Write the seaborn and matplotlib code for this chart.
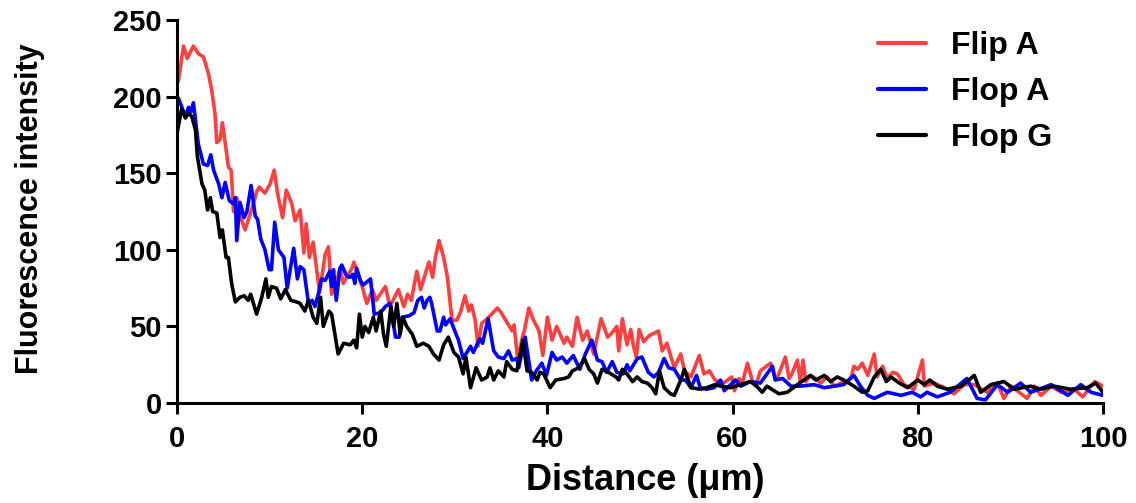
import numpy as np
import pandas as pd
import matplotlib
matplotlib.use("Agg")
import matplotlib.pyplot as plt
import seaborn as sns

# === DATA ===
flip_a_x = [0.0, 0.15, 0.7, 1.1, 1.77, 2.3, 2.85, 3.4, 3.75, 4.1, 4.3, 4.65, 4.9, 5.2, 5.55, 5.85,
            6.1, 6.45, 7.0, 7.35, 8.25, 8.6, 8.9, 9.5, 10.05, 10.5, 10.85, 11.4, 11.8, 12.4, 12.75,
            13.3, 13.7, 13.95, 14.3, 14.7, 15.0, 15.4, 16.0, 16.35, 16.7, 17.2, 17.6, 17.95, 18.9,
            19.1, 20.0, 20.5, 21.1, 21.5, 22.5, 23.0, 23.9, 24.5, 24.9, 25.3, 25.9, 26.3, 26.8,
            27.2, 27.6, 27.9, 28.3, 28.8, 29.2, 29.7, 30.2, 30.6, 31.1, 31.5, 31.8, 32.2, 32.5,
            32.9, 33.5, 34.6, 35.0, 35.6, 36.2, 36.4, 36.8, 37.3, 37.5, 38.0, 38.5, 39.1, 39.5,
            40.0, 40.5, 41.0, 41.8, 42.1, 42.7, 43.2, 43.8, 44.3, 45.0, 45.8, 46.5, 47.0, 47.5,
            47.7, 48.1, 48.6, 49.0, 49.3, 49.6, 49.9, 50.4, 51.0, 52.0, 52.4, 52.9, 53.7, 54.4,
            54.8, 55.5, 56.4, 56.9, 57.5, 58.1, 58.8, 59.9, 60.2, 60.7, 61.0, 61.6, 62.1, 62.5,
            63.0, 64.1, 64.5, 64.8, 65.7, 66.1, 66.4, 67.0, 67.3, 67.6, 67.9, 68.4, 69.0, 69.5,
            70.2, 71.0, 71.7, 72.4, 72.8, 73.1, 73.5, 74.0, 74.6, 75.3, 75.6, 76.2, 76.7, 77.3,
            77.8, 78.5, 79.6, 80.5, 80.7, 81.8, 83.2, 83.9, 85.0, 86.1, 87.5, 88.6, 89.3, 90.1,
            91.8, 92.6, 93.3, 94.4, 95.5, 96.9, 97.8, 99.1, 100.0]
flip_a_y = [213, 210, 233, 225, 233, 228, 226, 215, 204, 189, 170, 172, 183, 170, 154, 152,
            125, 134, 119, 113, 130, 138, 141, 137, 143, 152, 137, 121, 139, 130, 119,
            126, 98, 117, 95, 105, 91, 72, 97, 102, 71, 78, 88, 78, 88,
            92, 76, 65, 74, 67, 76, 63, 74, 63, 71, 67, 86, 74, 84,
            92, 82, 95, 106, 95, 82, 54, 54, 59, 70, 60, 64, 54, 37,
            52, 55, 62, 59, 53, 47, 51, 28, 43, 47, 62, 54, 47, 31,
            56, 41, 50, 39, 43, 37, 56, 41, 47, 32, 55, 43, 46, 50,
            34, 55, 38, 48, 37, 30, 48, 40, 44, 47, 34, 39, 23, 32,
            21, 17, 31, 19, 21, 15, 12, 17, 8, 16, 12, 26, 15, 11,
            21, 26, 18, 16, 30, 16, 19, 28, 14, 28, 14, 18, 16, 13,
            17, 11, 13, 14, 17, 24, 22, 26, 18, 32, 17, 24, 16, 20,
            19, 12, 9, 28, 11, 13, 9, 6, 12, 12, 7, 13, 3, 11,
            3, 11, 5, 11, 7, 9, 4, 14, 11]

flop_a_x = [0.0, 0.15, 0.9, 1.25, 1.5, 1.77, 2.3, 2.85, 3.3, 3.65, 3.95, 4.5, 4.85, 5.2, 5.65,
            6.1, 6.3, 6.45, 6.8, 7.25, 7.55, 8.0, 8.45, 8.7, 9.05, 9.5, 9.95, 10.2, 10.55, 10.95,
            11.55, 11.9, 12.6, 13.0, 13.3, 13.7, 14.2, 14.6, 14.9, 15.3, 15.6, 16.0, 16.5, 16.7,
            16.9, 17.2, 17.6, 17.8, 18.3, 18.7, 19.0, 19.2, 19.4, 19.8, 20.1, 20.9, 21.3, 22.0,
            22.5, 23.0, 23.6, 24.0, 24.3, 25.1, 25.6, 26.0, 26.4, 26.7, 27.0, 27.3, 27.5, 28.1,
            28.4, 28.8, 29.0, 29.5, 30.0, 30.4, 30.9, 31.7, 32.0, 32.7, 33.0, 33.6, 34.2, 34.7,
            35.3, 35.8, 36.2, 36.7, 36.9, 37.6, 38.3, 38.8, 39.4, 39.9, 40.5, 41.0, 41.6, 42.1,
            42.8, 43.5, 44.1, 44.8, 45.4, 45.9, 46.4, 47.0, 47.5, 48.2, 48.6, 48.9, 49.7, 50.2,
            50.9, 51.5, 52.0, 52.6, 53.1, 53.7, 54.4, 54.9, 55.5, 56.1, 56.5, 57.2, 58.0, 58.7,
            59.1, 59.8, 60.3, 60.9, 61.9, 63.0, 64.3, 64.6, 65.4, 66.3, 67.3, 68.8, 69.9, 71.0,
            72.0, 73.1, 73.8, 74.6, 75.3, 76.7, 78.2, 79.4, 80.3, 81.0, 82.1, 83.5, 84.3, 85.3,
            86.4, 87.3, 88.6, 89.7, 91.1, 92.2, 94.4, 96.2, 97.6, 98.7, 100.0]
flop_a_y = [193, 199, 187, 193, 190, 196, 169, 156, 155, 162, 152, 143, 134, 144, 132,
            130, 134, 106, 131, 121, 125, 142, 122, 120, 107, 100, 87, 87, 118, 100,
            95, 75, 101, 81, 89, 87, 65, 67, 63, 72, 81, 80, 86, 76,
            87, 67, 88, 90, 83, 82, 84, 78, 88, 80, 77, 81, 58, 59,
            63, 65, 43, 43, 56, 57, 59, 67, 69, 62, 67, 69, 65, 47,
            47, 56, 51, 55, 47, 41, 29, 37, 33, 42, 39, 55, 34, 30,
            29, 34, 28, 29, 23, 43, 15, 21, 26, 18, 33, 28, 30, 26,
            31, 22, 32, 41, 28, 27, 20, 27, 20, 19, 25, 21, 29, 30,
            20, 17, 20, 29, 23, 22, 15, 15, 10, 18, 10, 9, 10, 15,
            8, 12, 15, 11, 14, 13, 24, 15, 16, 11, 11, 12, 10, 11,
            12, 18, 11, 5, 3, 7, 5, 7, 4, 7, 4, 7, 11, 16,
            3, 2, 12, 7, 13, 7, 12, 5, 12, 7, 5]

flop_g_x = [0.0, 0.5, 0.9, 1.25, 1.6, 2.0, 2.2, 2.7, 3.0, 3.3, 3.6, 3.85, 4.3, 4.65, 4.9, 5.3,
            5.55, 5.9, 6.3, 6.8, 7.25, 7.7, 7.95, 8.25, 8.6, 9.15, 9.6, 9.85, 10.2, 10.75, 11.2,
            11.7, 12.3, 12.9, 13.3, 13.8, 14.2, 14.7, 15.1, 15.5, 15.8, 16.4, 16.7, 17.1, 17.4,
            18.0, 18.7, 19.1, 19.4, 19.7, 20.0, 20.3, 20.7, 21.2, 21.5, 22.0, 22.3, 22.6, 23.1,
            23.4, 23.75, 24.1, 24.4, 24.8, 25.4, 25.9, 26.6, 27.2, 27.7, 28.3, 28.8, 29.3, 29.9,
            30.4, 30.9, 31.2, 31.7, 32.3, 32.9, 33.5, 33.8, 34.2, 34.7, 35.3, 35.6, 36.2, 36.7,
            37.35, 37.8, 38.3, 38.9, 39.2, 39.6, 40.3, 40.9, 41.8, 42.3, 42.7, 43.4, 44.0, 44.5,
            45.0, 45.4, 45.9, 46.6, 47.4, 47.7, 48.1, 48.6, 49.2, 49.7, 50.2, 50.8, 51.3, 51.7,
            52.1, 52.6, 53.3, 53.7, 54.4, 54.8, 55.5, 56.5, 57.2, 58.1, 58.7, 59.8, 60.9, 61.9,
            62.6, 63.2, 63.7, 65.0, 65.9, 67.0, 67.7, 68.4, 69.0, 69.9, 70.6, 71.3, 72.0, 73.1,
            74.0, 74.6, 75.3, 76.0, 76.6, 77.1, 78.0, 78.9, 80.0, 80.7, 81.3, 82.1, 83.2, 84.7,
            86.1, 86.8, 87.9, 89.3, 90.4, 92.2, 93.3, 94.7, 96.5, 98.3, 99.2, 100.0]
flop_g_y = [176, 192, 186, 189, 187, 178, 161, 143, 139, 126, 134, 125, 124, 108, 113, 95,
            95, 78, 66, 69, 70, 67, 71, 65, 58, 69, 81, 69, 76, 75, 68,
            74, 67, 66, 65, 60, 67, 56, 52, 69, 50, 60, 58, 43, 32,
            39, 38, 41, 36, 58, 43, 50, 46, 56, 47, 60, 45, 37, 63,
            50, 65, 45, 56, 50, 45, 37, 39, 37, 32, 28, 38, 43, 33,
            30, 19, 30, 10, 23, 15, 17, 23, 15, 21, 17, 27, 22, 21,
            41, 21, 20, 15, 20, 19, 10, 15, 16, 17, 21, 23, 29, 22,
            19, 13, 22, 20, 17, 15, 22, 19, 14, 17, 14, 13, 10, 6,
            21, 10, 6, 5, 15, 22, 10, 9, 10, 12, 11, 10, 12, 14,
            11, 7, 11, 6, 7, 12, 15, 18, 15, 18, 14, 17, 15, 11,
            7, 8, 17, 22, 14, 17, 13, 10, 15, 12, 15, 11, 9, 11,
            18, 7, 12, 14, 9, 11, 9, 11, 9, 10, 13, 7]

series_names = ["Flip A", "Flop A", "Flop G"]
series_colors = ["#ff4040", "#0000ff", "#000000"]
x_ticks = [0, 20, 40, 60, 80, 100]
y_ticks = [0, 50, 100, 150, 200, 250]

# === LONG TABLE FOR SEABORN ===
frames = []
for name, xs, ys in zip(series_names,
                        [flip_a_x, flop_a_x, flop_g_x],
                        [flip_a_y, flop_a_y, flop_g_y]):
    frames.append(pd.DataFrame({"Distance": xs, "Intensity": ys, "Series": name}))
df = pd.concat(frames, ignore_index=True)

# === PLOT ===
sns.set_style("ticks")
plt.rcParams["font.family"] = ["Liberation Sans", "DejaVu Sans"]
plt.rcParams["font.weight"] = "bold"
plt.rcParams["text.color"] = "black"
plt.rcParams["axes.labelcolor"] = "black"
plt.rcParams["xtick.color"] = "black"
plt.rcParams["ytick.color"] = "black"

fig = plt.figure(figsize=(11.36, 5.03), dpi=100)
ax = fig.add_axes([177 / 1136, 100 / 503, 926 / 1136, 383 / 503])

sns.lineplot(data=df, x="Distance", y="Intensity", hue="Series",
             palette=dict(zip(series_names, series_colors)),
             estimator=None, sort=False, linewidth=2.6, ax=ax)

ax.set_xlim(0, 100)
ax.set_ylim(0, 250)
ax.set_xticks(x_ticks)
ax.set_yticks(y_ticks)
ax.tick_params(axis="both", direction="out", width=2.2, labelsize=21,
               colors="black")
ax.tick_params(axis="x", length=8, pad=8)
ax.tick_params(axis="y", length=8, pad=3)
for lab in ax.get_xticklabels() + ax.get_yticklabels():
    lab.set_fontweight("bold")
sns.despine(ax=ax)
for side in ["left", "bottom"]:
    ax.spines[side].set_linewidth(2.2)
    ax.spines[side].set_color("black")

ax.set_xlabel("Distance (μm)", fontsize=26, fontweight="bold", color="black")
ax.xaxis.set_label_coords((645 - 177) / 926, (403 - 463) / 383)
ax.set_ylabel("Fluorescence intensity", fontsize=22, fontweight="bold", color="black")
ax.yaxis.set_label_coords((45 - 177) / 926, (403 - 209) / 383)

leg = ax.legend(loc="upper left", bbox_to_anchor=(878 / 1136, 1 - 31 / 503),
                bbox_transform=fig.transFigure, frameon=False,
                fontsize=23, handlelength=1.5, handletextpad=0.8,
                labelspacing=0.5, borderpad=0, borderaxespad=0)
for t in leg.get_texts():
    t.set_fontweight("bold")
    t.set_color("black")
for h in leg.get_lines():
    h.set_linewidth(3)

fig.savefig("out.png", dpi=100)
plt.close(fig)
